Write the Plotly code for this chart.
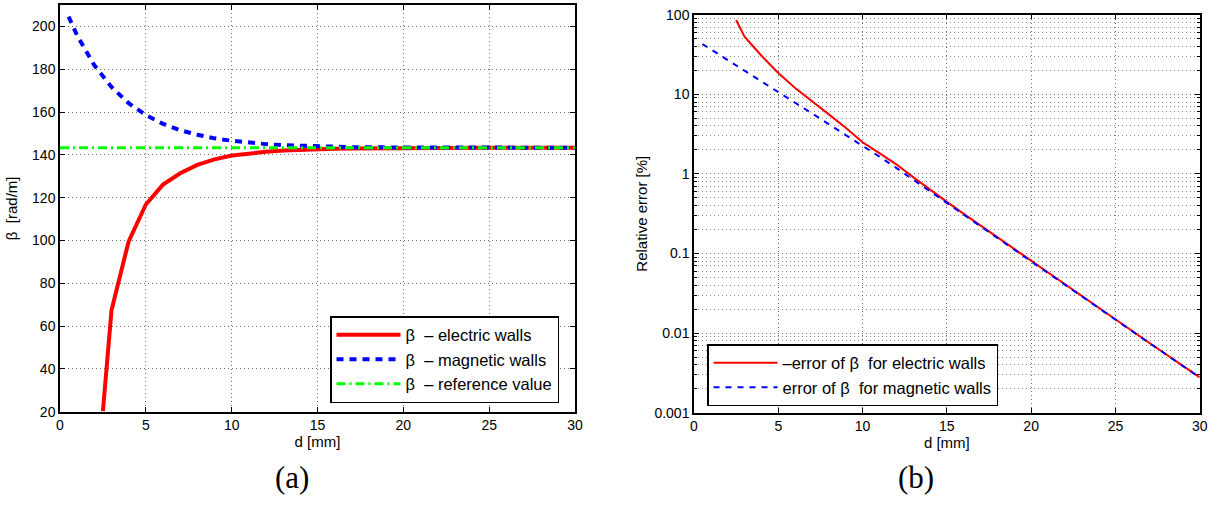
import plotly.graph_objects as go

# ---------------- data ----------------
# (a) propagation constant beta [rad/m] vs d [mm]
d_elec = [2.5, 3, 4, 5, 6, 7, 8, 9, 10, 11, 12, 13, 14, 15, 16, 17, 18, 19, 20,
          21, 22, 23, 24, 25, 26, 27, 28, 29, 30]
beta_elec = [20.3, 67.4, 99.6, 116.8, 126.1, 131.4, 135.3, 137.9, 139.7, 140.7,
             141.4, 142.0, 142.4, 142.66, 142.85, 142.98, 143.07, 143.14, 143.18,
             143.22, 143.24, 143.26, 143.27, 143.28, 143.285, 143.29, 143.292,
             143.294, 143.296]

d_mag = [0.5, 1, 2, 3, 4, 5, 6, 7, 8, 9, 10, 11, 12, 13, 14, 15, 16, 17, 18, 19,
         20, 21, 22, 23, 24, 25, 26, 27, 28, 29, 30]
beta_mag = [204.6, 195.7, 181.8, 171.7, 164.1, 158.6, 154.5, 151.5, 149.4, 147.7,
            146.6, 145.7, 145.0, 144.5, 144.2, 143.9, 143.7, 143.6, 143.5, 143.46,
            143.41, 143.38, 143.36, 143.34, 143.33, 143.32, 143.315, 143.311,
            143.308, 143.306, 143.304]

d_ref = [0, 30]
beta_ref = [143.3, 143.3]

# (b) relative error [%] vs d [mm]
err_elec = [85.8, 53.0, 30.5, 18.5, 12.0, 8.3, 5.6, 3.8, 2.5, 1.82, 1.32, 0.91,
            0.63, 0.445, 0.315, 0.224, 0.159, 0.113, 0.081, 0.0575, 0.041, 0.0292,
            0.0207, 0.0148, 0.0106, 0.00757, 0.00542, 0.00388, 0.00278]
err_mag = [42.8, 36.6, 26.9, 19.8, 14.5, 10.7, 7.83, 5.75, 4.23, 3.10, 2.28, 1.65,
           1.19, 0.851, 0.608, 0.435, 0.310, 0.221, 0.157, 0.112, 0.0800, 0.0570,
           0.0406, 0.0290, 0.0206, 0.0147, 0.0105, 0.00753, 0.00540, 0.00386,
           0.00277]

x_ticks = [0, 5, 10, 15, 20, 25, 30]
beta_ticks = [20, 40, 60, 80, 100, 120, 140, 160, 180, 200]
err_ticks = [0.001, 0.01, 0.1, 1, 10, 100]
err_ticklabels = ["0.001", "0.01", "0.1", "1", "10", "100"]

# ---------------- figure ----------------
W, H = 1220, 506
SANS = "Liberation Sans, Arial, sans-serif"
SERIF = "Liberation Serif, DejaVu Serif, serif"
GRID_DASH = "1px,3px"

fig = go.Figure()

fig.add_trace(go.Scatter(x=d_elec, y=beta_elec, mode="lines",
                         name="β  – electric walls",
                         line=dict(color="#ff0000", width=4),
                         xaxis="x", yaxis="y", legend="legend"))
fig.add_trace(go.Scatter(x=d_mag, y=beta_mag, mode="lines",
                         name="β  – magnetic walls",
                         line=dict(color="#0000ff", width=4, dash="7px,6px"),
                         xaxis="x", yaxis="y", legend="legend"))
fig.add_trace(go.Scatter(x=d_ref, y=beta_ref, mode="lines",
                         name="β  – reference value",
                         line=dict(color="#00ff00", width=3, dash="9px,4px,2px,4px"),
                         xaxis="x", yaxis="y", legend="legend"))

fig.add_trace(go.Scatter(x=d_elec, y=err_elec, mode="lines",
                         name="–error of β  for electric walls",
                         line=dict(color="#ff0000", width=2),
                         xaxis="x2", yaxis="y2", legend="legend2"))
fig.add_trace(go.Scatter(x=d_mag, y=err_mag, mode="lines",
                         name="error of β  for magnetic walls",
                         line=dict(color="#0000ff", width=2, dash="6px,6px"),
                         xaxis="x2", yaxis="y2", legend="legend2"))


def px_x(p):
    return p / W


def px_y(p):
    return (H - p) / H


axis_common = dict(
    showline=True, linecolor="black", linewidth=1.5, mirror="ticks",
    ticks="inside", ticklen=5, tickcolor="black", tickwidth=1,
    showgrid=True, gridcolor="#6a6a6a", griddash=GRID_DASH, gridwidth=1,
    zeroline=False, automargin=False,
    tickfont=dict(family=SANS, size=14, color="black"),
)

fig.update_layout(
    width=W, height=H, autosize=False,
    margin=dict(l=0, r=0, t=0, b=0, pad=0, autoexpand=False),
    paper_bgcolor="white", plot_bgcolor="white",
    font=dict(family=SANS, color="black"),
    xaxis=dict(domain=[px_x(60), px_x(575)], range=[0, 30], tickvals=x_ticks,
               title=dict(text="d [mm]", font=dict(size=15), standoff=1),
               anchor="y", **axis_common),
    yaxis=dict(domain=[px_y(411.7), px_y(5)], range=[20, 210], tickvals=beta_ticks,
               title=dict(text="β  [rad/m]", font=dict(size=15), standoff=11),
               anchor="x", **axis_common),
    xaxis2=dict(domain=[px_x(694), px_x(1199.7)], range=[0, 30], tickvals=x_ticks,
                title=dict(text="d [mm]", font=dict(size=15), standoff=1),
                anchor="y2", **axis_common),
    yaxis2=dict(domain=[px_y(412.7), px_y(14.7)], type="log", range=[-3, 2],
                tickvals=err_ticks, ticktext=err_ticklabels,
                title=dict(text="Relative error [%]", font=dict(size=15), standoff=3),
                minor=dict(dtick="D1", showgrid=True, gridcolor="#8a8a8a",
                           griddash=GRID_DASH, gridwidth=1, ticks="inside",
                           ticklen=3, tickcolor="black"),
                anchor="x2", **axis_common),
    legend=dict(x=px_x(330), y=px_y(316), xanchor="left", yanchor="top",
                bgcolor="white", bordercolor="black", borderwidth=1.5,
                font=dict(family=SANS, size=16.5), itemwidth=64,
                tracegroupgap=0),
    legend2=dict(x=px_x(707), y=px_y(344), xanchor="left", yanchor="top",
                 bgcolor="white", bordercolor="black", borderwidth=1.5,
                 font=dict(family=SANS, size=16.5), itemwidth=64,
                 tracegroupgap=0),
    showlegend=True,
    annotations=[
        dict(text="(a)", x=px_x(291.7), y=px_y(477), xref="paper", yref="paper",
             xanchor="center", yanchor="middle", showarrow=False,
             font=dict(family=SERIF, size=31, color="black")),
        dict(text="(b)", x=px_x(916), y=px_y(477), xref="paper", yref="paper",
             xanchor="center", yanchor="middle", showarrow=False,
             font=dict(family=SERIF, size=31, color="black")),
    ],
)

post = (
    "document.body.style.margin='0';"
    "document.body.style.overflow='hidden';"
    "var gd=document.getElementById('{plot_id}');"
    "Plotly.relayout(gd,{width:%d,height:%d,autosize:false});" % (W, H)
)

fig.write_html(
    "out.html",
    config={"displayModeBar": False, "responsive": False},
    post_script=post,
)
